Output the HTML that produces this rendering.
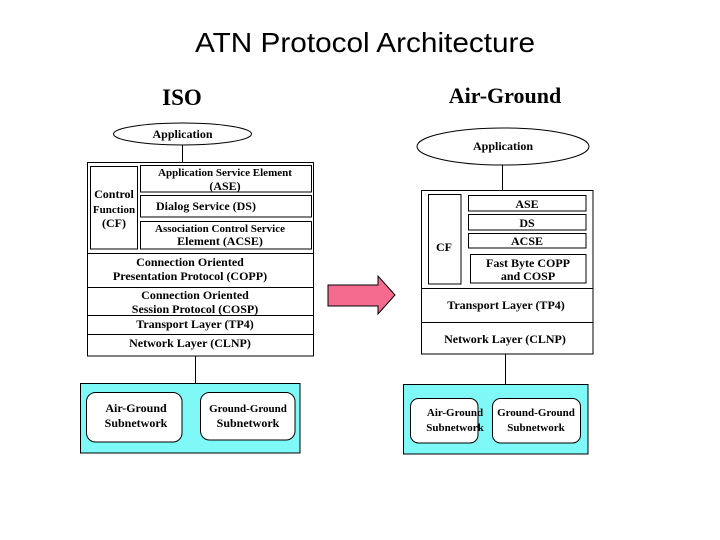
<!DOCTYPE html>
<html><head><meta charset="utf-8"><style>
html,body{margin:0;padding:0;background:#fff}
svg{display:block}
text{font-family:"Liberation Serif",serif;font-weight:bold;font-size:12px;fill:#000}
.s{font-size:11px}
</style></head><body>
<svg width="720" height="540" viewBox="0 0 720 540" xmlns="http://www.w3.org/2000/svg">
<text x="195" y="52" textLength="340" lengthAdjust="spacingAndGlyphs" style="font-family:'Liberation Sans',sans-serif;font-weight:normal;font-size:28px">ATN Protocol Architecture</text>
<text x="182" y="105" text-anchor="middle" style="font-size:23px">ISO</text>
<text x="505" y="103" text-anchor="middle" style="font-size:22px">Air-Ground</text>

<g fill="none" stroke="#000" stroke-width="1">
<ellipse cx="182.5" cy="134" rx="69" ry="11" fill="#fff"/>
<line x1="182.5" y1="145" x2="182.5" y2="162"/>
<rect x="87.5" y="162.5" width="226" height="193.5"/>
<rect x="90.5" y="166.5" width="47" height="82.5"/>
<rect x="140.5" y="165.5" width="171" height="26.5"/>
<rect x="140.5" y="195.5" width="171" height="21.5"/>
<rect x="140.5" y="221.5" width="171" height="27.5"/>
<line x1="87.5" y1="253.5" x2="313.5" y2="253.5"/>
<line x1="87.5" y1="287.5" x2="313.5" y2="287.5"/>
<line x1="87.5" y1="315.5" x2="313.5" y2="315.5"/>
<line x1="87.5" y1="334.5" x2="313.5" y2="334.5"/>
<line x1="195.5" y1="356" x2="195.5" y2="383"/>
<ellipse cx="503" cy="146.5" rx="86" ry="18.5" fill="#fff"/>
<line x1="502.5" y1="165" x2="502.5" y2="190"/>
<rect x="421.5" y="190.5" width="171.5" height="163.5"/>
<rect x="428.5" y="194.5" width="32.5" height="89.5"/>
<rect x="468.5" y="195.5" width="117.5" height="15.5"/>
<rect x="468.5" y="214.5" width="117.5" height="15.5"/>
<rect x="468.5" y="233.5" width="117.5" height="14.5"/>
<rect x="470.5" y="254.5" width="115.5" height="28.5"/>
<line x1="421.5" y1="288.5" x2="593" y2="288.5"/>
<line x1="421.5" y1="322.5" x2="593" y2="322.5"/>
<line x1="505.5" y1="354" x2="505.5" y2="384"/>
<rect x="80.5" y="383.5" width="219.5" height="69.5" fill="#7ff8f8"/>
<rect x="86.5" y="392.5" width="95.5" height="49.5" rx="9" fill="#fff"/>
<rect x="200.5" y="392.5" width="94.5" height="47.5" rx="9" fill="#fff"/>
<rect x="403.5" y="384.5" width="184.5" height="69.5" fill="#7ff8f8"/>
<rect x="410.5" y="398.5" width="67.5" height="44.5" rx="8" fill="#fff"/>
<rect x="492.5" y="398.5" width="88" height="44.5" rx="8" fill="#fff"/>
</g>
<polygon points="328,285 378,285 378,276 395,295 378,314 378,306 328,306" fill="#f56a8f" stroke="#000" stroke-width="1"/>

<text x="182.5" y="138" text-anchor="middle">Application</text>
<text x="225" y="176" text-anchor="middle" class="s">Application Service Element</text>
<text x="225" y="190" text-anchor="middle">(ASE)</text>
<text x="206" y="210" text-anchor="middle">Dialog Service (DS)</text>
<text x="220" y="232" text-anchor="middle" class="s">Association Control Service</text>
<text x="220" y="245" text-anchor="middle">Element (ACSE)</text>
<text x="114" y="198" text-anchor="middle">Control</text>
<text x="114" y="213" text-anchor="middle" class="s">Function</text>
<text x="114" y="227" text-anchor="middle">(CF)</text>
<text x="190" y="266" text-anchor="middle">Connection Oriented</text>
<text x="190" y="280" text-anchor="middle">Presentation Protocol (COPP)</text>
<text x="195" y="299" text-anchor="middle">Connection Oriented</text>
<text x="195" y="313" text-anchor="middle">Session Protocol (COSP)</text>
<text x="195" y="328" text-anchor="middle">Transport Layer (TP4)</text>
<text x="190" y="347" text-anchor="middle">Network Layer (CLNP)</text>

<text x="503" y="150" text-anchor="middle">Application</text>
<text x="527" y="208" text-anchor="middle">ASE</text>
<text x="527" y="227" text-anchor="middle">DS</text>
<text x="527" y="245" text-anchor="middle">ACSE</text>
<text x="444" y="251" text-anchor="middle">CF</text>
<text x="528" y="267" text-anchor="middle">Fast Byte COPP</text>
<text x="528" y="280" text-anchor="middle">and COSP</text>
<text x="506" y="309" text-anchor="middle">Transport Layer (TP4)</text>
<text x="505" y="343" text-anchor="middle">Network Layer (CLNP)</text>

<text x="136" y="412" text-anchor="middle">Air-Ground</text>
<text x="136" y="427" text-anchor="middle">Subnetwork</text>
<text x="248" y="412" text-anchor="middle" class="s">Ground-Ground</text>
<text x="248" y="427" text-anchor="middle">Subnetwork</text>
<text x="455" y="416" text-anchor="middle" class="s">Air-Ground</text>
<text x="455" y="431" text-anchor="middle" class="s">Subnetwork</text>
<text x="536" y="416" text-anchor="middle" class="s">Ground-Ground</text>
<text x="536" y="431" text-anchor="middle" class="s">Subnetwork</text>
</svg>
</body></html>
